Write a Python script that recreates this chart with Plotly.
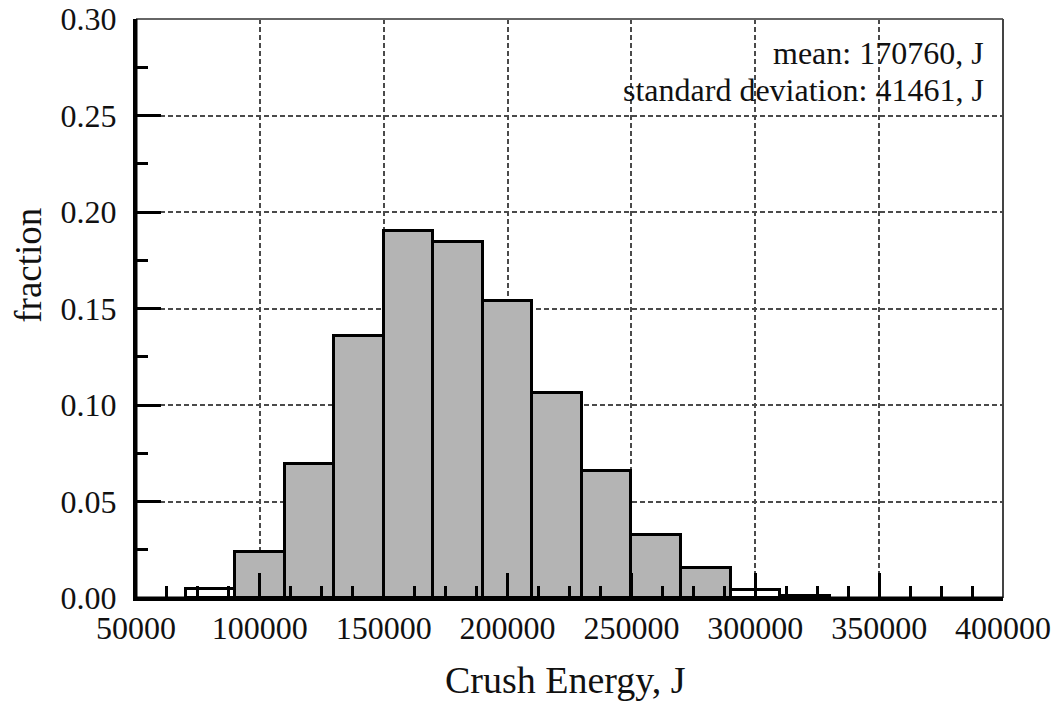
import plotly.graph_objects as go

# ---- data ----
bin_left = [70000, 90000, 110000, 130000, 150000, 170000, 190000, 210000,
            230000, 250000, 270000, 290000, 310000]
bin_right = [90000, 110000, 130000, 150000, 170000, 190000, 210000, 230000,
             250000, 270000, 290000, 310000, 330000]
fraction = [0.0045, 0.024, 0.0695, 0.136, 0.190, 0.1845, 0.154, 0.106,
            0.066, 0.0325, 0.0153, 0.0043, 0.0008]
x_tick_vals = [50000, 100000, 150000, 200000, 250000, 300000, 350000, 400000]
x_tick_text = ["50000", "100000", "150000", "200000", "250000", "300000", "350000", "400000"]
y_tick_vals = [0.00, 0.05, 0.10, 0.15, 0.20, 0.25, 0.30]
y_tick_text = ["0.00", "0.05", "0.10", "0.15", "0.20", "0.25", "0.30"]
x_title = "Crush Energy, J"
y_title = "fraction"
mean_text = "mean: 170760, J"
std_text = "standard deviation: 41461, J"

centers = [(a + b) / 2 for a, b in zip(bin_left, bin_right)]
widths = [b - a for a, b in zip(bin_left, bin_right)]
fills = ["#ffffff" if f < 0.01 else "#b4b4b4" for f in fraction]

FONT = "Liberation Serif"

fig = go.Figure()
fig.add_trace(go.Bar(
    x=centers, y=fraction, width=widths,
    marker=dict(color=fills, line=dict(color="#000000", width=3)),
    hoverinfo="skip", showlegend=False,
))

fig.update_layout(
    width=1058, height=702,
    margin=dict(l=136, r=55, t=19, b=104, autoexpand=False),
    paper_bgcolor="white", plot_bgcolor="white",
    font=dict(family=FONT, color="#111111"),
    bargap=0,
    xaxis=dict(
        range=[50000, 400000], automargin=False,
        tickmode="array", tickvals=x_tick_vals, ticktext=x_tick_text,
        ticks="inside", ticklen=25, tickwidth=3, tickcolor="#000000",
        minor=dict(dtick=12500, ticks="inside", ticklen=12, tickwidth=3,
                   tickcolor="#000000", showgrid=False),
        showgrid=True, gridcolor="#4a4a4a", gridwidth=1.5, griddash="5px,3px",
        showline=True, linecolor="#000000", linewidth=3,
        zeroline=False,
        tickfont=dict(family=FONT, size=32, color="#111111"),
        ticklabelstandoff=0,
    ),
    yaxis=dict(
        range=[0, 0.30], automargin=False,
        tickmode="array", tickvals=y_tick_vals, ticktext=y_tick_text,
        ticks="inside", ticklen=25, tickwidth=3, tickcolor="#000000",
        minor=dict(dtick=0.025, ticks="inside", ticklen=12, tickwidth=3,
                   tickcolor="#000000", showgrid=False),
        showgrid=True, gridcolor="#4a4a4a", gridwidth=1.5, griddash="5px,3px",
        showline=True, linecolor="#000000", linewidth=3,
        zeroline=False,
        tickfont=dict(family=FONT, size=32, color="#111111"),
        ticklabelstandoff=10,
    ),
    shapes=[
        dict(type="line", xref="paper", yref="paper", x0=0, x1=1, y0=1, y1=1,
             line=dict(color="#666666", width=2), layer="above"),
        dict(type="line", xref="paper", yref="paper", x0=1, x1=1, y0=0, y1=1,
             line=dict(color="#444444", width=2), layer="above"),
        dict(type="line", xref="paper", yref="paper", x0=0, x1=0, y0=0, y1=1,
             line=dict(color="#000000", width=3), layer="above"),
        dict(type="line", xref="paper", yref="paper", x0=0, x1=1, y0=0, y1=0,
             line=dict(color="#000000", width=3), layer="above"),
    ],
    annotations=[
        dict(text=y_title, xref="paper", yref="paper", x=-0.125, y=0.575,
             textangle=-90, showarrow=False, xanchor="center", yanchor="middle",
             font=dict(family=FONT, size=37, color="#111111")),
        dict(text=x_title, xref="paper", yref="paper", x=0.495, y=-0.142,
             showarrow=False, xanchor="center", yanchor="middle",
             font=dict(family=FONT, size=38, color="#111111")),
        dict(text=mean_text, xref="paper", yref="paper", x=0.980, y=0.941,
             showarrow=False, xanchor="right", yanchor="middle",
             font=dict(family=FONT, size=32, color="#111111")),
        dict(text=std_text, xref="paper", yref="paper", x=0.980, y=0.877,
             showarrow=False, xanchor="right", yanchor="middle",
             font=dict(family=FONT, size=32, color="#111111")),
    ],
)

fig.write_html("out.html")
